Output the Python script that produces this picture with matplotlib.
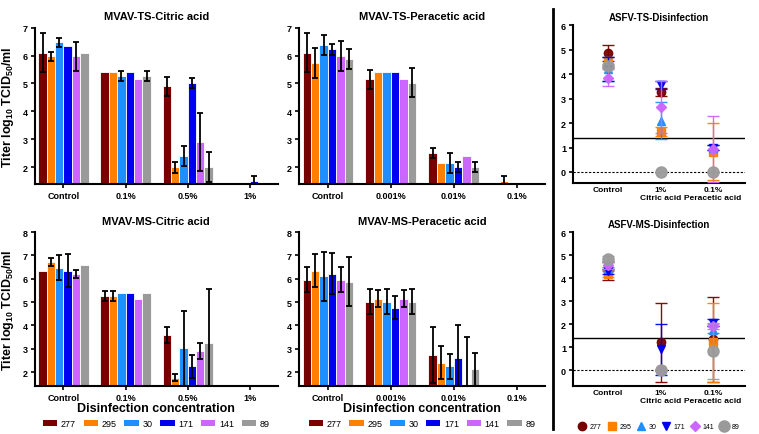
import numpy as np
import matplotlib
matplotlib.use("Agg")
from matplotlib import pyplot as plt
from matplotlib.patches import Patch
from matplotlib.lines import Line2D

plt.rcParams['font.family'] = ['Liberation Sans', 'DejaVu Sans']
plt.rcParams['font.weight'] = 'bold'
plt.rcParams['mathtext.fontset'] = 'custom'
plt.rcParams['mathtext.rm'] = 'Liberation Sans:bold'
plt.rcParams['mathtext.it'] = 'Liberation Sans:bold'
plt.rcParams['mathtext.bf'] = 'Liberation Sans:bold'

nan = np.nan
strains = ['277', '295', '30', '171', '141', '89']
colors = ['#7a0000', '#ff7f00', '#1e8fff', '#0000f0', '#cc66ff', '#9a9a9a']
markers = ['o', 's', '^', 'v', 'D', 'o']

citric_groups = ['Control', '0.1%', '0.5%', '1%']
peracetic_groups = ['Control', '0.001%', '0.01%', '0.1%']

# MVAV titers, one row per strain, one column per concentration
ts_citric = [[6.1, 5.4, 4.9, nan], [5.97, 5.4, 2.0, nan], [6.47, 5.27, 2.4, nan],
             [6.35, 5.4, 5.02, 1.5], [5.97, 5.15, 2.9, nan], [6.1, 5.27, 2.0, nan]]
ts_citric_err = [[0.7, 0, 0.35, 0], [0.17, 0, 0.2, 0], [0.17, 0.18, 0.35, 0],
                 [0, 0, 0.18, 0.18], [0.53, 0, 1.05, 0], [0, 0.18, 0.53, 0]]
ts_peracetic = [[6.1, 5.15, 2.5, nan], [5.73, 5.4, 2.15, 1.5], [6.38, 5.4, 2.15, nan],
                [6.23, 5.4, 2.0, nan], [5.99, 5.15, 2.4, nan], [5.87, 5.03, 2.0, nan]]
ts_peracetic_err = [[0.7, 0.35, 0.18, 0], [0.53, 0, 0, 0.18], [0.37, 0, 0.35, 0],
                    [0.2, 0, 0.18, 0], [0.53, 0, 0, 0], [0.36, 0.53, 0.18, 0]]
ms_citric = [[6.35, 5.25, 3.6, nan], [6.72, 5.25, 1.75, nan], [6.47, 5.4, 3.02, nan],
             [6.35, 5.4, 2.25, nan], [6.2, 5.15, 2.9, nan], [6.6, 5.4, 3.27, nan]]
ms_citric_err = [[0, 0.22, 0.35, 0], [0.18, 0.22, 0.15, 0], [0.53, 0, 1.6, 0],
                 [0.7, 0, 0.5, 0], [0.18, 0, 0.35, 0], [0, 0, 2.3, 0]]
ms_peracetic = [[5.97, 5.02, 2.75, nan], [6.35, 5.15, 2.4, nan], [6.1, 5.02, 2.25, nan],
                [6.22, 4.77, 2.62, nan], [5.97, 5.15, 1.45, nan], [5.87, 5.02, 2.12, nan]]
ms_peracetic_err = [[0.53, 0.53, 1.2, 0], [0.7, 0.35, 0.7, 0], [1.05, 0.53, 0.53, 0],
                    [0.88, 0.5, 1.4, 0], [0.53, 0.35, 2.05, 0], [1.05, 0.53, 0.7, 0]]

# ASFV titers
asfv_groups = ['Control', '1%\nCitric acid', '0.1%\nPeracetic acid']
asfv_ts = [[4.87, 3.28, nan], [4.5, 1.65, 0.83], [4.2, 2.1, 1.0],
           [4.2, 3.55, 1.0], [3.85, 2.65, 0.95], [4.33, 0.0, 0.0]]
asfv_ts_err = [[0.33, 0.17, 0], [0.2, 0.2, 1.17], [0.5, 0.75, 0.1],
               [0.5, 0.15, 0.1], [0.35, 1.05, 1.35], [0.1, 0, 0]]
asfv_ms = [[4.3, 1.2, 1.33], [4.2, 0.0, 1.2], [4.4, 0.0, 1.75],
           [4.3, 0.9, 2.05], [4.56, 0.0, 1.9], [4.85, 0.0, 0.83]]
asfv_ms_err = [[0.4, 1.7, 1.87], [0.15, 0, 1.7], [0.1, 0, 0.15],
               [0.1, 1.1, 0.15], [0.15, 0, 0.1], [0.1, 0, 1.2]]
detection_limit = 1.4

fig = plt.figure(figsize=(7.59, 4.35), dpi=100)


def style_axes(ax):
    for s in ['top', 'right']:
        ax.spines[s].set_visible(False)
    for s in ['left', 'bottom']:
        ax.spines[s].set_linewidth(1.5)
    ax.tick_params(axis='both', labelsize=6.5, width=1.2, length=3, pad=2)


def bar_panel(rect, title, groups, values, errs, ymax):
    ax = fig.add_axes(rect)
    x = np.arange(len(groups))
    w = 0.135
    for i in range(len(strains)):
        pos = x + (i - 2.5) * w
        v = np.array(values[i], dtype=float)
        e = np.array(errs[i], dtype=float)
        ax.bar(pos, v, width=w, color=colors[i], edgecolor='white', linewidth=0.6, zorder=2)
        has_err = (e > 0) & ~np.isnan(v)
        ax.errorbar(pos[has_err], v[has_err], yerr=e[has_err], fmt='none', ecolor='black',
                    elinewidth=1.3, capsize=2.5, capthick=1.3, zorder=3)
    ax.set_xticks(x)
    ax.set_xticklabels(groups)
    ax.set_xlim(-0.46, 3.45)
    ax.set_ylim(1.4, ymax)
    ax.set_yticks(np.arange(2, ymax + 1))
    ax.set_title(title, fontsize=8, fontweight='bold', pad=6)
    style_axes(ax)
    return ax


ylab = r'Titer log$_{10}$ TCID$_{50}$/ml'
ax1 = bar_panel([0.046, 0.575, 0.320, 0.359], 'MVAV-TS-Citric acid', citric_groups, ts_citric, ts_citric_err, 7)
ax1.set_ylabel(ylab, fontsize=9, fontweight='bold', labelpad=5)
ax2 = bar_panel([0.394, 0.575, 0.324, 0.359], 'MVAV-TS-Peracetic acid', peracetic_groups, ts_peracetic, ts_peracetic_err, 7)
ax3 = bar_panel([0.046, 0.110, 0.320, 0.354], 'MVAV-MS-Citric acid', citric_groups, ms_citric, ms_citric_err, 8)
ax3.set_ylabel(ylab, fontsize=9, fontweight='bold', labelpad=5)
ax3.set_xlabel('Disinfection concentration', fontsize=9, fontweight='bold', labelpad=0)
ax4 = bar_panel([0.394, 0.110, 0.324, 0.354], 'MVAV-MS-Peracetic acid', peracetic_groups, ms_peracetic, ms_peracetic_err, 8)
ax4.set_xlabel('Disinfection concentration', fontsize=9, fontweight='bold', labelpad=0)

patches = [Patch(facecolor=c, edgecolor='none') for c in colors]
for ax in [ax3, ax4]:
    ax.legend(patches, strains, ncol=6, loc='upper center', bbox_to_anchor=(0.5, -0.19),
              frameon=False, handlelength=1.6, handleheight=0.6, columnspacing=0.85,
              handletextpad=0.4, borderaxespad=0, prop={'size': 6.5, 'weight': 'normal'})


def asfv_panel(rect, title, values, errs, ymin):
    ax = fig.add_axes(rect)
    x = np.arange(len(asfv_groups))
    for i in range(len(strains)):
        v = np.array(values[i], dtype=float)
        e = np.array(errs[i], dtype=float)
        ms = 8 if strains[i] == '89' else 6
        if markers[i] == 'D':
            ms = 5
        ax.errorbar(x, v, yerr=e, fmt=markers[i], color=colors[i], ms=ms, mec=colors[i],
                    elinewidth=1.0, capsize=4, capthick=1.0, alpha=0.95, zorder=3 + i)
    ax.axhline(detection_limit, color='black', lw=1.0, zorder=1)
    ax.axhline(0, color='black', lw=0.8, ls=(0, (2, 1.5)), zorder=1)
    ax.set_xticks(x)
    ax.set_xticklabels(asfv_groups)
    ax.set_xlim(-0.67, 2.62)
    ax.set_ylim(ymin, 6)
    ax.set_yticks(np.arange(0, 7))
    ax.set_title(title, fontsize=7, fontweight='bold', pad=4)
    style_axes(ax)
    ax.tick_params(axis='x', length=0, labelsize=6)
    return ax


ax5 = asfv_panel([0.755, 0.577, 0.227, 0.363], 'ASFV-TS-Disinfection', asfv_ts, asfv_ts_err, -0.45)
ax6 = asfv_panel([0.755, 0.110, 0.227, 0.354], 'ASFV-MS-Disinfection', asfv_ms, asfv_ms_err, -0.7)

handles = [Line2D([], [], ls='none', marker=markers[i], color=colors[i],
                  ms=(8 if strains[i] == '89' else (5 if markers[i] == 'D' else 6))) for i in range(6)]
ax6.legend(handles, strains, ncol=6, loc='upper center', bbox_to_anchor=(0.5, -0.2),
           frameon=False, handlelength=1.0, columnspacing=0.9, handletextpad=0.6,
           prop={'size': 5, 'weight': 'normal'})

# separator between MVAV and ASFV panels
fig.add_artist(Line2D([553 / 759, 553 / 759], [1 - 10 / 435, 1 - 430 / 435], color='black', lw=2))

fig.savefig('out.png', dpi=100)
